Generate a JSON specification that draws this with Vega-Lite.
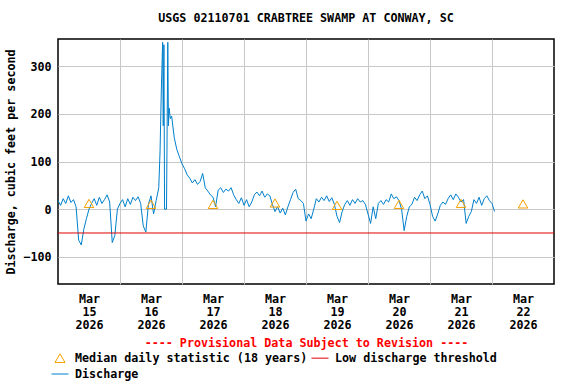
{
  "$schema": "https://vega.github.io/schema/vega-lite/v6.json",
  "width": 496,
  "height": 245,
  "autosize": {"type": "none"},
  "padding": {"left": 58, "top": 39, "right": 22, "bottom": 100},
  "title": {"text": "USGS 02110701 CRABTREE SWAMP AT CONWAY, SC", "anchor": "middle", "offset": 14, "font": "DejaVu Sans Mono", "fontSize": 11.7, "fontWeight": "bold", "color": "#000000"},
  "config": {
    "view": {"stroke": "#000000", "strokeWidth": 1.5},
    "font": "DejaVu Sans Mono",
    "axis": {"gridColor": "#c8c8c8", "gridWidth": 1, "gridOpacity": 1, "labelFont": "DejaVu Sans Mono", "labelFontSize": 11.7, "labelFontWeight": "bold", "labelColor": "#000000", "titleFont": "DejaVu Sans Mono", "titleFontSize": 11.7, "titleFontWeight": "bold", "titleColor": "#000000"}
  },
  "resolve": {"axis": {"x": "independent"}},
  "layer": [
    {
      "data": {"values": [
        {"t":"2026-03-15T00:00","q":18,"series":"Discharge"},{"t":"2026-03-15T01:00","q":8,"series":"Discharge"},{"t":"2026-03-15T02:00","q":22,"series":"Discharge"},{"t":"2026-03-15T03:00","q":12,"series":"Discharge"},{"t":"2026-03-15T04:00","q":28,"series":"Discharge"},{"t":"2026-03-15T05:00","q":14,"series":"Discharge"},{"t":"2026-03-15T06:00","q":20,"series":"Discharge"},{"t":"2026-03-15T07:00","q":5,"series":"Discharge"},{"t":"2026-03-15T08:00","q":-65,"series":"Discharge"},{"t":"2026-03-15T09:00","q":-75,"series":"Discharge"},{"t":"2026-03-15T10:00","q":-42,"series":"Discharge"},{"t":"2026-03-15T11:00","q":-20,"series":"Discharge"},
        {"t":"2026-03-15T12:00","q":0,"series":"Discharge"},{"t":"2026-03-15T13:00","q":12,"series":"Discharge"},{"t":"2026-03-15T14:00","q":22,"series":"Discharge"},{"t":"2026-03-15T15:00","q":8,"series":"Discharge"},{"t":"2026-03-15T16:00","q":25,"series":"Discharge"},{"t":"2026-03-15T17:00","q":12,"series":"Discharge"},{"t":"2026-03-15T18:00","q":20,"series":"Discharge"},{"t":"2026-03-15T19:00","q":30,"series":"Discharge"},{"t":"2026-03-15T20:00","q":15,"series":"Discharge"},{"t":"2026-03-15T21:00","q":-70,"series":"Discharge"},{"t":"2026-03-15T22:00","q":-55,"series":"Discharge"},{"t":"2026-03-15T23:00","q":0,"series":"Discharge"},
        {"t":"2026-03-16T00:00","q":12,"series":"Discharge"},{"t":"2026-03-16T01:00","q":20,"series":"Discharge"},{"t":"2026-03-16T02:00","q":5,"series":"Discharge"},{"t":"2026-03-16T03:00","q":22,"series":"Discharge"},{"t":"2026-03-16T04:00","q":10,"series":"Discharge"},{"t":"2026-03-16T05:00","q":25,"series":"Discharge"},{"t":"2026-03-16T06:00","q":18,"series":"Discharge"},{"t":"2026-03-16T07:00","q":26,"series":"Discharge"},{"t":"2026-03-16T08:00","q":12,"series":"Discharge"},{"t":"2026-03-16T09:00","q":-35,"series":"Discharge"},{"t":"2026-03-16T10:00","q":-48,"series":"Discharge"},{"t":"2026-03-16T11:00","q":10,"series":"Discharge"},
        {"t":"2026-03-16T12:00","q":28,"series":"Discharge"},{"t":"2026-03-16T13:00","q":-10,"series":"Discharge"},{"t":"2026-03-16T14:00","q":18,"series":"Discharge"},{"t":"2026-03-16T15:00","q":45,"series":"Discharge"},{"t":"2026-03-16T15:30","q":120,"series":"Discharge"},{"t":"2026-03-16T16:00","q":250,"series":"Discharge"},{"t":"2026-03-16T16:30","q":350,"series":"Discharge"},{"t":"2026-03-16T16:45","q":175,"series":"Discharge"},{"t":"2026-03-16T17:00","q":345,"series":"Discharge"},{"t":"2026-03-16T17:15","q":0,"series":"Discharge"},{"t":"2026-03-16T18:00","q":0,"series":"Discharge"},{"t":"2026-03-16T18:30","q":350,"series":"Discharge"},{"t":"2026-03-16T18:45","q":175,"series":"Discharge"},{"t":"2026-03-16T19:00","q":212,"series":"Discharge"},{"t":"2026-03-16T19:30","q":190,"series":"Discharge"},{"t":"2026-03-16T20:00","q":195,"series":"Discharge"},{"t":"2026-03-16T21:00","q":150,"series":"Discharge"},{"t":"2026-03-16T22:00","q":125,"series":"Discharge"},{"t":"2026-03-16T23:00","q":110,"series":"Discharge"},
        {"t":"2026-03-17T00:00","q":95,"series":"Discharge"},{"t":"2026-03-17T01:00","q":85,"series":"Discharge"},{"t":"2026-03-17T02:00","q":72,"series":"Discharge"},{"t":"2026-03-17T03:00","q":65,"series":"Discharge"},{"t":"2026-03-17T04:00","q":55,"series":"Discharge"},{"t":"2026-03-17T05:00","q":62,"series":"Discharge"},{"t":"2026-03-17T06:00","q":52,"series":"Discharge"},{"t":"2026-03-17T07:00","q":58,"series":"Discharge"},{"t":"2026-03-17T08:00","q":75,"series":"Discharge"},{"t":"2026-03-17T09:00","q":45,"series":"Discharge"},{"t":"2026-03-17T10:00","q":38,"series":"Discharge"},{"t":"2026-03-17T11:00","q":30,"series":"Discharge"},
        {"t":"2026-03-17T12:00","q":25,"series":"Discharge"},{"t":"2026-03-17T13:00","q":5,"series":"Discharge"},{"t":"2026-03-17T14:00","q":40,"series":"Discharge"},{"t":"2026-03-17T15:00","q":45,"series":"Discharge"},{"t":"2026-03-17T16:00","q":35,"series":"Discharge"},{"t":"2026-03-17T17:00","q":42,"series":"Discharge"},{"t":"2026-03-17T18:00","q":38,"series":"Discharge"},{"t":"2026-03-17T19:00","q":45,"series":"Discharge"},{"t":"2026-03-17T20:00","q":30,"series":"Discharge"},{"t":"2026-03-17T21:00","q":20,"series":"Discharge"},{"t":"2026-03-17T22:00","q":12,"series":"Discharge"},{"t":"2026-03-17T23:00","q":24,"series":"Discharge"},
        {"t":"2026-03-18T00:00","q":8,"series":"Discharge"},{"t":"2026-03-18T01:00","q":20,"series":"Discharge"},{"t":"2026-03-18T02:00","q":5,"series":"Discharge"},{"t":"2026-03-18T03:00","q":15,"series":"Discharge"},{"t":"2026-03-18T04:00","q":30,"series":"Discharge"},{"t":"2026-03-18T05:00","q":36,"series":"Discharge"},{"t":"2026-03-18T06:00","q":28,"series":"Discharge"},{"t":"2026-03-18T07:00","q":38,"series":"Discharge"},{"t":"2026-03-18T08:00","q":25,"series":"Discharge"},{"t":"2026-03-18T09:00","q":32,"series":"Discharge"},{"t":"2026-03-18T10:00","q":28,"series":"Discharge"},{"t":"2026-03-18T11:00","q":10,"series":"Discharge"},
        {"t":"2026-03-18T12:00","q":-5,"series":"Discharge"},{"t":"2026-03-18T13:00","q":5,"series":"Discharge"},{"t":"2026-03-18T14:00","q":-8,"series":"Discharge"},{"t":"2026-03-18T15:00","q":2,"series":"Discharge"},{"t":"2026-03-18T16:00","q":-12,"series":"Discharge"},{"t":"2026-03-18T17:00","q":5,"series":"Discharge"},{"t":"2026-03-18T18:00","q":20,"series":"Discharge"},{"t":"2026-03-18T19:00","q":35,"series":"Discharge"},{"t":"2026-03-18T20:00","q":42,"series":"Discharge"},{"t":"2026-03-18T21:00","q":22,"series":"Discharge"},{"t":"2026-03-18T22:00","q":18,"series":"Discharge"},{"t":"2026-03-18T23:00","q":12,"series":"Discharge"},
        {"t":"2026-03-19T00:00","q":-25,"series":"Discharge"},{"t":"2026-03-19T01:00","q":-10,"series":"Discharge"},{"t":"2026-03-19T02:00","q":-20,"series":"Discharge"},{"t":"2026-03-19T03:00","q":0,"series":"Discharge"},{"t":"2026-03-19T04:00","q":22,"series":"Discharge"},{"t":"2026-03-19T05:00","q":15,"series":"Discharge"},{"t":"2026-03-19T06:00","q":25,"series":"Discharge"},{"t":"2026-03-19T07:00","q":18,"series":"Discharge"},{"t":"2026-03-19T08:00","q":28,"series":"Discharge"},{"t":"2026-03-19T09:00","q":16,"series":"Discharge"},{"t":"2026-03-19T10:00","q":24,"series":"Discharge"},{"t":"2026-03-19T11:00","q":10,"series":"Discharge"},
        {"t":"2026-03-19T12:00","q":-15,"series":"Discharge"},{"t":"2026-03-19T13:00","q":-28,"series":"Discharge"},{"t":"2026-03-19T14:00","q":-5,"series":"Discharge"},{"t":"2026-03-19T15:00","q":10,"series":"Discharge"},{"t":"2026-03-19T16:00","q":18,"series":"Discharge"},{"t":"2026-03-19T17:00","q":8,"series":"Discharge"},{"t":"2026-03-19T18:00","q":20,"series":"Discharge"},{"t":"2026-03-19T19:00","q":12,"series":"Discharge"},{"t":"2026-03-19T20:00","q":22,"series":"Discharge"},{"t":"2026-03-19T21:00","q":15,"series":"Discharge"},{"t":"2026-03-19T22:00","q":18,"series":"Discharge"},{"t":"2026-03-19T23:00","q":10,"series":"Discharge"},
        {"t":"2026-03-20T00:00","q":-10,"series":"Discharge"},{"t":"2026-03-20T01:00","q":-30,"series":"Discharge"},{"t":"2026-03-20T02:00","q":5,"series":"Discharge"},{"t":"2026-03-20T03:00","q":-20,"series":"Discharge"},{"t":"2026-03-20T04:00","q":12,"series":"Discharge"},{"t":"2026-03-20T05:00","q":18,"series":"Discharge"},{"t":"2026-03-20T06:00","q":10,"series":"Discharge"},{"t":"2026-03-20T07:00","q":20,"series":"Discharge"},{"t":"2026-03-20T08:00","q":15,"series":"Discharge"},{"t":"2026-03-20T09:00","q":32,"series":"Discharge"},{"t":"2026-03-20T10:00","q":22,"series":"Discharge"},{"t":"2026-03-20T11:00","q":26,"series":"Discharge"},
        {"t":"2026-03-20T12:00","q":18,"series":"Discharge"},{"t":"2026-03-20T13:00","q":0,"series":"Discharge"},{"t":"2026-03-20T14:00","q":-45,"series":"Discharge"},{"t":"2026-03-20T15:00","q":-15,"series":"Discharge"},{"t":"2026-03-20T16:00","q":5,"series":"Discharge"},{"t":"2026-03-20T17:00","q":10,"series":"Discharge"},{"t":"2026-03-20T18:00","q":25,"series":"Discharge"},{"t":"2026-03-20T19:00","q":18,"series":"Discharge"},{"t":"2026-03-20T20:00","q":30,"series":"Discharge"},{"t":"2026-03-20T21:00","q":38,"series":"Discharge"},{"t":"2026-03-20T22:00","q":22,"series":"Discharge"},{"t":"2026-03-20T23:00","q":28,"series":"Discharge"},
        {"t":"2026-03-21T00:00","q":10,"series":"Discharge"},{"t":"2026-03-21T01:00","q":-15,"series":"Discharge"},{"t":"2026-03-21T02:00","q":-25,"series":"Discharge"},{"t":"2026-03-21T03:00","q":-10,"series":"Discharge"},{"t":"2026-03-21T04:00","q":8,"series":"Discharge"},{"t":"2026-03-21T05:00","q":15,"series":"Discharge"},{"t":"2026-03-21T06:00","q":10,"series":"Discharge"},{"t":"2026-03-21T07:00","q":22,"series":"Discharge"},{"t":"2026-03-21T08:00","q":30,"series":"Discharge"},{"t":"2026-03-21T09:00","q":20,"series":"Discharge"},{"t":"2026-03-21T10:00","q":32,"series":"Discharge"},{"t":"2026-03-21T11:00","q":25,"series":"Discharge"},
        {"t":"2026-03-21T12:00","q":15,"series":"Discharge"},{"t":"2026-03-21T13:00","q":20,"series":"Discharge"},{"t":"2026-03-21T14:00","q":-30,"series":"Discharge"},{"t":"2026-03-21T15:00","q":-15,"series":"Discharge"},{"t":"2026-03-21T16:00","q":-5,"series":"Discharge"},{"t":"2026-03-21T17:00","q":20,"series":"Discharge"},{"t":"2026-03-21T18:00","q":12,"series":"Discharge"},{"t":"2026-03-21T19:00","q":25,"series":"Discharge"},{"t":"2026-03-21T20:00","q":8,"series":"Discharge"},{"t":"2026-03-21T21:00","q":22,"series":"Discharge"},{"t":"2026-03-21T22:00","q":28,"series":"Discharge"},{"t":"2026-03-21T23:00","q":18,"series":"Discharge"},
        {"t":"2026-03-22T00:00","q":12,"series":"Discharge"},{"t":"2026-03-22T01:00","q":-5,"series":"Discharge"}
      ]},
      "mark": {"type": "line", "strokeWidth": 1},
      "encoding": {
        "x": {"field": "t", "type": "temporal",
          "scale": {"domain": [{"year": 2026, "month": 3, "date": 15}, {"year": 2026, "month": 3, "date": 23}]},
          "axis": {"orient": "bottom", "grid": true, "labels": false, "ticks": false, "domain": false, "title": null,
            "values": [{"year": 2026, "month": 3, "date": 16}, {"year": 2026, "month": 3, "date": 17}, {"year": 2026, "month": 3, "date": 18}, {"year": 2026, "month": 3, "date": 19}, {"year": 2026, "month": 3, "date": 20}, {"year": 2026, "month": 3, "date": 21}, {"year": 2026, "month": 3, "date": 22}]}},
        "y": {"field": "q", "type": "quantitative",
          "scale": {"domain": [-157, 357], "nice": false, "zero": false},
          "axis": {"values": [-100, 0, 100, 200, 300], "grid": true, "ticks": false, "domain": false, "labelPadding": 7, "title": "Discharge, cubic feet per second", "titlePadding": 6}},
        "color": {"field": "series", "type": "nominal",
          "scale": {"domain": ["Median daily statistic (18 years)", "Low discharge threshold", "Discharge"], "range": ["#f5a000", "#e00000", "#0080cc"]},
          "legend": {"orient": "none", "legendX": -7, "legendY": 310, "columns": 2, "direction": "horizontal", "columnPadding": 1, "rowPadding": 0, "padding": 0, "title": null,
            "labelFont": "DejaVu Sans Mono", "labelFontSize": 11.7, "labelFontWeight": "bold", "labelColor": "#000000", "labelOffset": 6, "labelLimit": 0, "symbolSize": 289,
            "encode": {"symbols": {"update": {
              "shape": {"signal": "datum.value === 'Median daily statistic (18 years)' ? 'triangle-up' : 'stroke'"},
              "size": {"signal": "datum.value === 'Median daily statistic (18 years)' ? 100 : 289"},
              "fill": {"value": "transparent"},
              "stroke": {"signal": "scale('color', datum.value)"},
              "strokeWidth": {"value": 1},
              "opacity": {"value": 1}
            }}}}
        }
      }
    },
    {
      "data": {"values": [{"series": "Low discharge threshold", "q": -50}]},
      "mark": {"type": "rule", "strokeWidth": 1},
      "encoding": {
        "y": {"field": "q", "type": "quantitative"},
        "color": {"field": "series", "type": "nominal"}
      }
    },
    {
      "data": {"values": [
        {"t": "2026-03-15T12:00", "q": 12, "series": "Median daily statistic (18 years)"},
        {"t": "2026-03-16T12:00", "q": 10, "series": "Median daily statistic (18 years)"},
        {"t": "2026-03-17T12:00", "q": 10, "series": "Median daily statistic (18 years)"},
        {"t": "2026-03-18T12:00", "q": 13, "series": "Median daily statistic (18 years)"},
        {"t": "2026-03-19T12:00", "q": 8, "series": "Median daily statistic (18 years)"},
        {"t": "2026-03-20T12:00", "q": 10, "series": "Median daily statistic (18 years)"},
        {"t": "2026-03-21T12:00", "q": 12, "series": "Median daily statistic (18 years)"},
        {"t": "2026-03-22T12:00", "q": 11, "series": "Median daily statistic (18 years)"}
      ]},
      "mark": {"type": "point", "shape": "triangle-up", "filled": false, "size": 90, "strokeWidth": 1, "opacity": 1},
      "encoding": {
        "x": {"field": "t", "type": "temporal",
          "axis": {"orient": "bottom", "grid": false, "ticks": false, "domain": false, "labelPadding": 9, "labelLineHeight": 13, "labelAlign": "center",
            "values": [{"year": 2026, "month": 3, "date": 15, "hours": 12}, {"year": 2026, "month": 3, "date": 16, "hours": 12}, {"year": 2026, "month": 3, "date": 17, "hours": 12}, {"year": 2026, "month": 3, "date": 18, "hours": 12}, {"year": 2026, "month": 3, "date": 19, "hours": 12}, {"year": 2026, "month": 3, "date": 20, "hours": 12}, {"year": 2026, "month": 3, "date": 21, "hours": 12}, {"year": 2026, "month": 3, "date": 22, "hours": 12}],
            "labelExpr": "[timeFormat(datum.value, '%b'), timeFormat(datum.value, '%d'), timeFormat(datum.value, '%Y')]",
            "title": "---- Provisional Data Subject to Revision ----", "titleColor": "#ff0000", "titlePadding": 7}},
        "y": {"field": "q", "type": "quantitative"},
        "color": {"field": "series", "type": "nominal"}
      }
    }
  ]
}
